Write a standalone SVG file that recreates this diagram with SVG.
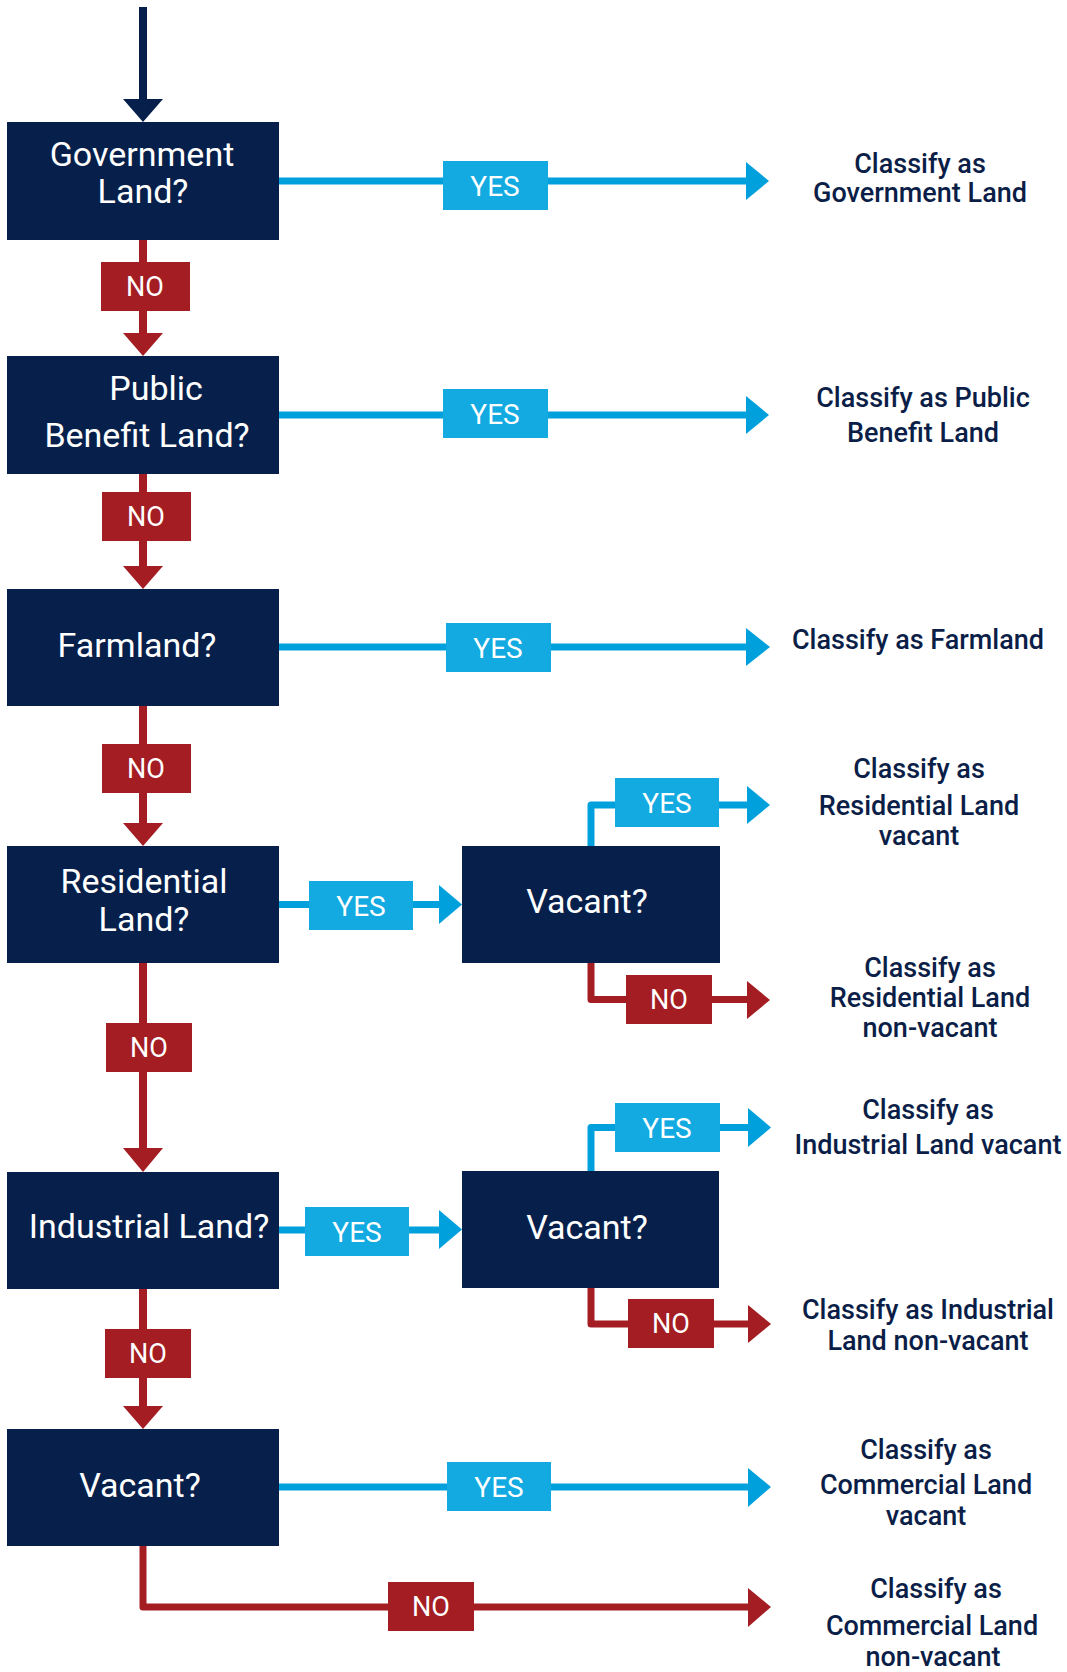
<svg xmlns="http://www.w3.org/2000/svg" width="1067" height="1672" viewBox="0 0 1067 1672">
<style>
.box{fill:#071F4B}
.q{font-family:Roboto,"Liberation Sans",sans-serif;font-size:34px;fill:#fff;text-anchor:middle}
.yes{fill:#12AAE1}
.no{fill:#A31D22}
.lt{font-family:Roboto,"Liberation Sans",sans-serif;font-size:27px;fill:#fff;text-anchor:middle}
.yt{font-size:28px}
.res{font-family:Roboto,"Liberation Sans",sans-serif;font-size:27px;font-weight:500;fill:#0B1E47;text-anchor:middle}
.bl{stroke:#00A0DC;stroke-width:7;fill:none}
.rl{stroke:#A31D22;stroke-width:8;fill:none}
.rl2{stroke:#A31D22;stroke-width:7;fill:none}
.ba{fill:#00A0DC}
.ra{fill:#A31D22}
</style>
<rect width="1067" height="1672" fill="#fff"/>
<g id="connectors">
<line x1="143" y1="7" x2="143" y2="102" stroke="#071F4B" stroke-width="8"/>
<polygon points="123,99 163,99 143,122" fill="#071F4B"/>
<line class="rl" x1="143" y1="240" x2="143" y2="336"/>
<polygon class="ra" points="123,333 163,333 143,356"/>
<line class="rl" x1="143" y1="474" x2="143" y2="569"/>
<polygon class="ra" points="123,566 163,566 143,589"/>
<line class="rl" x1="143" y1="706" x2="143" y2="826"/>
<polygon class="ra" points="123,823 163,823 143,846"/>
<line class="rl" x1="143" y1="963" x2="143" y2="1151"/>
<polygon class="ra" points="123,1148 163,1148 143,1172"/>
<line class="rl" x1="143" y1="1289" x2="143" y2="1409"/>
<polygon class="ra" points="123,1406 163,1406 143,1429"/>
<line class="bl" x1="279" y1="181" x2="749" y2="181"/>
<polygon class="ba" points="746,162 746,200 769,181"/>
<line class="bl" x1="279" y1="415" x2="749" y2="415"/>
<polygon class="ba" points="746,396 746,434 769,415"/>
<line class="bl" x1="279" y1="647" x2="749" y2="647"/>
<polygon class="ba" points="746,628 746,666 770,647"/>
<line class="bl" x1="279" y1="904.5" x2="442" y2="904.5"/>
<polygon class="ba" points="439,885 439,924 462,904.5"/>
<path class="bl" d="M591,846 V805 H750" stroke-linejoin="round"/>
<polygon class="ba" points="747,786 747,824 770,805"/>
<path class="rl2" d="M591,962 V999.5 H750" stroke-linejoin="round"/>
<polygon class="ra" points="747,981 747,1019 770,1000"/>
<line class="bl" x1="279" y1="1230" x2="442" y2="1230"/>
<polygon class="ba" points="439,1210 439,1249 462,1229.5"/>
<path class="bl" d="M591,1171 V1127.5 H751" stroke-linejoin="round"/>
<polygon class="ba" points="748,1108 748,1147 771,1127.5"/>
<path class="rl2" d="M591,1288 V1324 H751" stroke-linejoin="round"/>
<polygon class="ra" points="748,1305 748,1343 771,1324"/>
<line class="bl" x1="279" y1="1487" x2="751" y2="1487"/>
<polygon class="ba" points="748,1468 748,1507 771,1487"/>
<path class="rl2" d="M143,1546 V1607 H751" stroke-linejoin="round"/>
<polygon class="ra" points="748,1588 748,1627 771,1607"/>
<rect class="yes" x="443" y="161" width="105" height="49"/>
<text class="lt yt" x="495" y="195.5">YES</text>
<rect class="yes" x="443" y="389" width="105" height="49"/>
<text class="lt yt" x="495" y="423.5">YES</text>
<rect class="yes" x="446" y="623" width="105" height="49"/>
<text class="lt yt" x="498" y="657.5">YES</text>
<rect class="yes" x="309" y="881" width="104" height="49"/>
<text class="lt yt" x="361" y="915.5">YES</text>
<rect class="yes" x="615" y="778" width="104" height="49"/>
<text class="lt yt" x="667" y="812.5">YES</text>
<rect class="yes" x="305" y="1207" width="104" height="49"/>
<text class="lt yt" x="357" y="1241.5">YES</text>
<rect class="yes" x="615" y="1103" width="105" height="49"/>
<text class="lt yt" x="667" y="1137.5">YES</text>
<rect class="yes" x="447" y="1462" width="104" height="49"/>
<text class="lt yt" x="499" y="1496.5">YES</text>
<rect class="no" x="101" y="262" width="89" height="49"/>
<text class="lt" x="145" y="296">NO</text>
<rect class="no" x="102" y="492" width="89" height="49"/>
<text class="lt" x="146" y="526">NO</text>
<rect class="no" x="102" y="744" width="89" height="49"/>
<text class="lt" x="146" y="778">NO</text>
<rect class="no" x="106" y="1023" width="86" height="49"/>
<text class="lt" x="149" y="1057">NO</text>
<rect class="no" x="105" y="1329" width="86" height="49"/>
<text class="lt" x="148" y="1363">NO</text>
<rect class="no" x="626" y="975" width="86" height="49"/>
<text class="lt" x="669" y="1009">NO</text>
<rect class="no" x="628" y="1299" width="86" height="49"/>
<text class="lt" x="671" y="1333">NO</text>
<rect class="no" x="388" y="1582" width="86" height="49"/>
<text class="lt" x="431" y="1616">NO</text>
</g>
<g id="n-government">
<rect class="box" x="7" y="122" width="272" height="118"/>
<text class="q" x="142" y="166">Government</text>
<text class="q" x="143" y="203">Land?</text>
</g>
<g id="n-public">
<rect class="box" x="7" y="356" width="272" height="118"/>
<text class="q" x="156" y="400">Public</text>
<text class="q" x="147" y="447">Benefit Land?</text>
</g>
<g id="n-farmland">
<rect class="box" x="7" y="589" width="272" height="117"/>
<text class="q" x="137" y="657">Farmland?</text>
</g>
<g id="n-residential">
<rect class="box" x="7" y="846" width="272" height="117"/>
<text class="q" x="144" y="893">Residential</text>
<text class="q" x="144" y="931">Land?</text>
</g>
<g id="n-industrial">
<rect class="box" x="7" y="1172" width="272" height="117"/>
<text class="q" x="149" y="1238">Industrial Land?</text>
</g>
<g id="n-vacant-commercial">
<rect class="box" x="7" y="1429" width="272" height="117"/>
<text class="q" x="140" y="1497">Vacant?</text>
</g>
<g id="n-vacant-residential">
<rect class="box" x="462" y="846" width="258" height="117"/>
<text class="q" x="587" y="913">Vacant?</text>
</g>
<g id="n-vacant-industrial">
<rect class="box" x="462" y="1171" width="257" height="117"/>
<text class="q" x="587" y="1239">Vacant?</text>
</g>
<g id="r-government">
<text class="res" x="920" y="173">Classify as</text>
<text class="res" x="920" y="202">Government Land</text>
</g>
<g id="r-public">
<text class="res" x="923" y="407">Classify as Public</text>
<text class="res" x="923" y="442">Benefit Land</text>
</g>
<g id="r-farmland">
<text class="res" x="918" y="649">Classify as Farmland</text>
</g>
<g id="r-res-vacant">
<text class="res" x="919" y="778">Classify as</text>
<text class="res" x="919" y="815">Residential Land</text>
<text class="res" x="919" y="845">vacant</text>
</g>
<g id="r-res-nonvacant">
<text class="res" x="930" y="977">Classify as</text>
<text class="res" x="930" y="1007">Residential Land</text>
<text class="res" x="930" y="1037">non-vacant</text>
</g>
<g id="r-ind-vacant">
<text class="res" x="928" y="1119">Classify as</text>
<text class="res" x="928" y="1154">Industrial Land vacant</text>
</g>
<g id="r-ind-nonvacant">
<text class="res" x="928" y="1319">Classify as Industrial</text>
<text class="res" x="928" y="1350">Land non-vacant</text>
</g>
<g id="r-com-vacant">
<text class="res" x="926" y="1459">Classify as</text>
<text class="res" x="926" y="1494">Commercial Land</text>
<text class="res" x="926" y="1525">vacant</text>
</g>
<g id="r-com-nonvacant">
<text class="res" x="936" y="1598">Classify as</text>
<text class="res" x="932" y="1635">Commercial Land</text>
<text class="res" x="933" y="1666">non-vacant</text>
</g>
</svg>
